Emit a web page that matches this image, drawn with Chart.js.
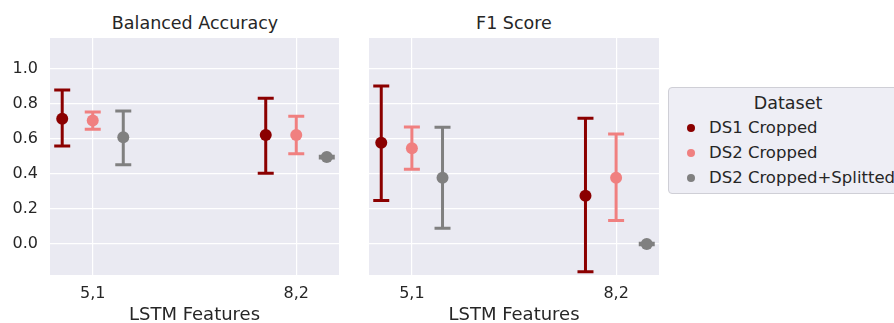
<!DOCTYPE html>
<html>
<head>
<meta charset="utf-8">
<script src="https://cdn.jsdelivr.net/npm/chart.js@4"></script>
<style>
  body { margin: 0; background: #fff; width: 894px; height: 323px; overflow: hidden; position: relative;
         font-family: "DejaVu Sans", sans-serif; color: #262626; }
  canvas { position: absolute; top: 0; }
  .title { position: absolute; top: 11px; font-size: 17.5px; line-height: 24px; text-align: center; width: 300px; }
  #legend { position: absolute; left: 668px; top: 87px; width: 240px; height: 107px; box-sizing: border-box;
            border: 1px solid #cfcfd6; border-radius: 4px; background: #eeeef5; }
  #legend .ltitle { position: absolute; left: 0; width: 238px; top: 3px; text-align: center; font-size: 17.5px; line-height: 24px; }
  #legend .item { position: absolute; left: 40px; font-size: 16.5px; line-height: 24px; white-space: nowrap; }
  #legend .dot { position: absolute; left: -22px; top: 8px; width: 8px; height: 8px; border-radius: 50%; }
</style>
</head>
<body>
<div class="title" style="left:45px">Balanced Accuracy</div>
<div class="title" style="left:364px">F1 Score</div>
<canvas id="chartBA" width="345" height="326" style="left:0"></canvas>
<canvas id="chartF1" width="325" height="326" style="left:340px"></canvas>
<div id="legend"><div class="ltitle">Dataset</div></div>

<script>
// categories on the x axis and the three datasets
const categories = ['5,1', '8,2'];
const datasetNames = ['DS1 Cropped', 'DS2 Cropped', 'DS2 Cropped+Splitted'];
const colors = ['#8b0000', '#f08080', '#808080'];
const yTicks = [0, 0.2, 0.4, 0.6, 0.8, 1.0];

// Balanced Accuracy: one row per dataset, one value per category
const baMean = [[0.715, 0.623], [0.705, 0.623], [0.610, 0.497]];
const baLow  = [[0.560, 0.404], [0.655, 0.516], [0.453, 0.492]];
const baHigh = [[0.880, 0.833], [0.754, 0.730], [0.760, 0.502]];

// F1 Score
const f1Mean = [[0.579, 0.276], [0.547, 0.379], [0.379, 0.000]];
const f1Low  = [[0.248, -0.158], [0.427, 0.135], [0.090, -0.004]];
const f1High = [[0.903, 0.718], [0.669, 0.629], [0.667, 0.004]];

const dodge = [-0.15, 0, 0.15];

// plot background like seaborn darkgrid
const plotBackground = {
    id: 'plotBackground',
    beforeDraw(chart) {
        const a = chart.chartArea;
        chart.ctx.save();
        chart.ctx.fillStyle = '#eaeaf2';
        chart.ctx.fillRect(a.left, a.top, a.right - a.left, a.bottom - a.top);
        chart.ctx.restore();
    }
};

// vertical error bars with caps, drawn under the points
const errorBars = {
    id: 'errorBars',
    beforeDatasetsDraw(chart) {
        const ctx = chart.ctx;
        const x = chart.scales.x;
        const y = chart.scales.y;
        const a = chart.chartArea;
        ctx.save();
        ctx.beginPath();
        ctx.rect(a.left, a.top, a.right - a.left, a.bottom - a.top);
        ctx.clip();
        chart.data.datasets.forEach(ds => {
            ctx.strokeStyle = ds.borderColor;
            ctx.lineWidth = 3;
            ds.data.forEach((p, j) => {
                const px = x.getPixelForValue(p.x);
                const lo = y.getPixelForValue(ds.errLow[j]);
                const hi = y.getPixelForValue(ds.errHigh[j]);
                ctx.beginPath();
                ctx.moveTo(px, lo); ctx.lineTo(px, hi);
                ctx.moveTo(px - 8, lo); ctx.lineTo(px + 8, lo);
                ctx.moveTo(px - 8, hi); ctx.lineTo(px + 8, hi);
                ctx.stroke();
            });
        });
        ctx.restore();
    }
};

function makeChart(id, means, lows, highs, showYLabels, yWidth, padRight) {
    const datasets = datasetNames.map((name, i) => ({
        label: name,
        data: categories.map((c, j) => ({ x: j + dodge[i], y: means[i][j] })),
        errLow: lows[i],
        errHigh: highs[i],
        backgroundColor: colors[i],
        borderColor: colors[i],
        pointRadius: 6,
        pointBorderWidth: 0,
        showLine: false
    }));

    return new Chart(document.getElementById(id), {
        type: 'scatter',
        data: { datasets: datasets },
        options: {
            responsive: false,
            animation: false,
            layout: { padding: { top: 38, right: padRight, left: 0, bottom: 0 } },
            plugins: { legend: { display: false }, tooltip: { enabled: false } },
            scales: {
                x: {
                    type: 'linear', min: -0.21, max: 1.21,
                    border: { display: false },
                    grid: { color: '#ffffff', lineWidth: 1.2, drawTicks: false },
                    afterBuildTicks: s => { s.ticks = categories.map((c, i) => ({ value: i })); },
                    afterFit: s => { s.height = 51; },
                    ticks: {
                        padding: 9, color: '#262626',
                        font: { family: 'DejaVu Sans', size: 16 },
                        callback: v => categories[Math.round(v)]
                    },
                    title: {
                        display: true, text: 'LSTM Features', color: '#262626',
                        padding: 0, font: { family: 'DejaVu Sans', size: 18 }
                    }
                },
                y: {
                    min: -0.177, max: 1.177,
                    border: { display: false },
                    grid: { color: '#ffffff', lineWidth: 1.2, drawTicks: false },
                    afterBuildTicks: s => { s.ticks = yTicks.map(v => ({ value: v })); },
                    afterFit: s => { s.width = yWidth; },
                    ticks: {
                        display: showYLabels, padding: 12, color: '#262626',
                        font: { family: 'DejaVu Sans', size: 16 },
                        callback: v => v.toFixed(1)
                    }
                }
            }
        },
        plugins: [plotBackground, errorBars]
    });
}

makeChart('chartBA', baMean, baLow, baHigh, true, 50, 5);
makeChart('chartF1', f1Mean, f1Low, f1High, false, 29, 6);

// legend on the right, clipped by the window edge
const legend = document.getElementById('legend');
datasetNames.forEach((name, i) => {
    const item = document.createElement('div');
    item.className = 'item';
    item.style.top = (28 + i * 25) + 'px';
    item.innerHTML = '<span class="dot" style="background:' + colors[i] + '"></span>' + name;
    legend.appendChild(item);
});
</script>
</body>
</html>
